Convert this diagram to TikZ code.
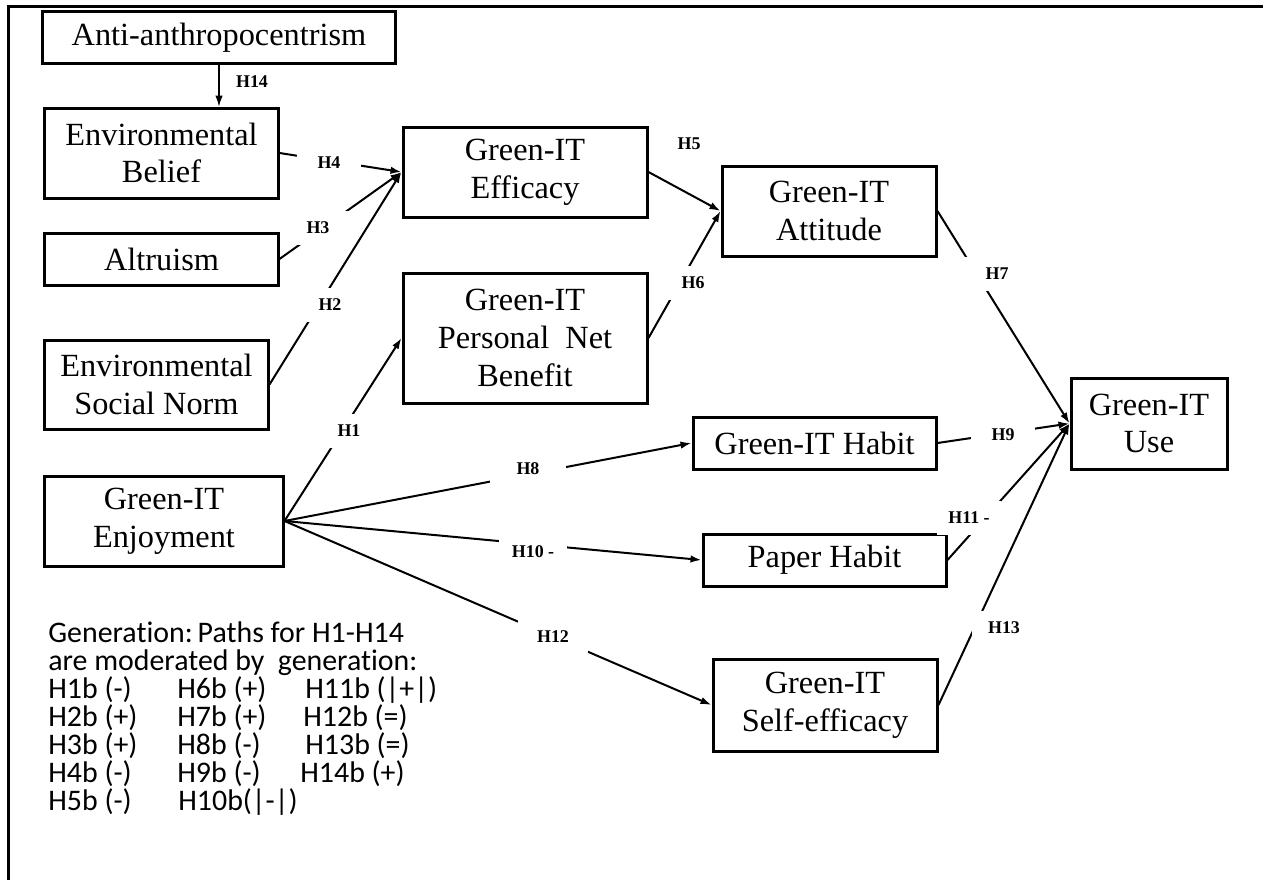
\documentclass[tikz,border=0pt]{standalone}
\usepackage{fontspec}
\setmainfont{Liberation Serif}
\newfontfamily\calib[Ligatures=CommonOff]{Carlito}
\usetikzlibrary{arrows.meta}
\begin{document}
\begin{tikzpicture}[x=0.2mm,y=-0.2mm,
  box/.style={draw=black,line width=0.6mm,inner sep=0pt,align=center,
    font=\fontsize{18.4}{21.5}\selectfont},
  conn/.style={line width=0.4mm,-{Latex[length=2.2mm,width=1.5mm]}},
  thinconn/.style={line width=0.22mm,-{Latex[length=2.2mm,width=1.5mm]}},
  frame/.style={line width=0.6mm},
  lbl/.style={fill=white,inner sep=0pt,minimum width=12.8mm,minimum height=6.8mm,
    font=\bfseries\fontsize{10.2}{11}\selectfont},
  lblnofill/.style={inner sep=0pt,font=\bfseries\fontsize{10.2}{11}\selectfont},
  gen/.style={anchor=base west,inner sep=0pt,font=\calib\fontsize{17}{17}\selectfont}]
\useasboundingbox (0,0) rectangle (1263,880);
\draw[frame] (1263,6) -- (8,6) -- (8,880);

% boxes
\node[box,minimum width=70.4mm,minimum height=10.2mm] (anti) at (219,37.5) {Anti-anthropocentrism};
\node[box,minimum width=46.6mm,minimum height=18mm] (belief) at (161.5,153) {Environmental\\Belief};
\node[box,minimum width=46.6mm,minimum height=10.4mm] (altru) at (161.5,259) {Altruism};
\node[box,minimum width=44.6mm,minimum height=17.8mm] (norm) at (156.5,384.5) {Environmental\\Social Norm};
\node[box,minimum width=47.6mm,minimum height=18mm] (enjoy) at (164,521) {Green-IT\\Enjoyment};
\node[box,minimum width=48.8mm,minimum height=18mm] (eff) at (525,172) {Green-IT\\Efficacy};
\node[box,minimum width=48.8mm,minimum height=26mm] (pnb) at (525,338) {Green-IT\\Personal~~Net\\Benefit};
\node[box,minimum width=42.8mm,minimum height=18mm] (att) at (829,211) {Green-IT\\Attitude};
\node[box,minimum width=48.6mm,minimum height=10.4mm] (habit) at (814.5,443) {Green-IT Habit};
\node[box,minimum width=48.6mm,minimum height=10.4mm] (paper) at (824.5,560) {Paper Habit};
\node[box,minimum width=44.8mm,minimum height=18.4mm] (self) at (825,705) {Green-IT\\Self-efficacy};
\node[box,minimum width=31.2mm,minimum height=18.2mm] (use) at (1149,423.5) {Green-IT\\Use};

% connectors
\draw[thinconn] (anti.south) -- (anti.south |- belief.north);
\draw[conn] (belief.east) -- (eff.west);
\draw[conn] (altru.east) -- (eff.west);
\draw[conn] (norm.east) -- (eff.west);
\draw[conn] (enjoy.east) -- (pnb.west);
\draw[conn] (eff.east) -- (att.west);
\draw[conn] (pnb.east) -- (att.west);
\draw[conn] (att.east) -- (use.west);
\draw[conn] (enjoy.east) -- (habit.west);
\draw[conn] (enjoy.east) -- (paper.west);
\draw[conn] (enjoy.east) -- (self.west);
\draw[conn] (habit.east) -- (use.west);
\draw[conn] (paper.east) -- (use.west);
\draw[conn] (self.east) -- (use.west);

% labels
\node[lblnofill] (l14) at (252,82) {H14};
\node[lbl] (l4) at (329,163) {H4};
\node[lbl] (l3) at (318,228) {H3};
\node[lbl] (l2) at (330,305) {H2};
\node[lbl] (l1) at (349,431) {H1};
\node[lblnofill] (l5) at (689,144) {H5};
\node[lbl] (l6) at (693,283) {H6};
\node[lbl] (l7) at (997,274) {H7};
\node[lbl,minimum width=15.2mm] (l8) at (528,469) {H8};
\node[lbl] (l9) at (1003,435) {H9};
\node[lbl,minimum width=13.6mm] (l10) at (533,552) {H10 -};
\node[lbl] (l11) at (969,518) {H11 -};
\node[lbl,minimum width=14mm] (l12) at (553,637) {H12};
\node[lbl] (l13) at (1004,628) {H13};

% generation text
\node[gen] (g1) at (48,642) {Generation:\,Paths for H1-H14};
\node[gen] (g2) at (48,670) {are moderated by \ generation:};
\node[gen] (a1) at (48,698) {H1b (-)};
\node[gen] (a2) at (48,726) {H2b (+)};
\node[gen] (a3) at (48,754) {H3b (+)};
\node[gen] (a4) at (48,782) {H4b (-)};
\node[gen] (a5) at (48,810) {H5b (-)};
\node[gen] (b1) at (177,698) {H6b (+)};
\node[gen] (b2) at (177,726) {H7b (+)};
\node[gen] (b3) at (177,754) {H8b (-)};
\node[gen] (b4) at (177,782) {H9b (-)};
\node[gen] (b5) at (178,810) {H10b(|-|)};
\node[gen] (c1) at (305,698) {H11b (|+|)};
\node[gen] (c2) at (303,726) {H12b (=)};
\node[gen] (c3) at (305,754) {H13b (=)};
\node[gen] (c4) at (300,782) {H14b (+)};
\end{tikzpicture}
\end{document}
